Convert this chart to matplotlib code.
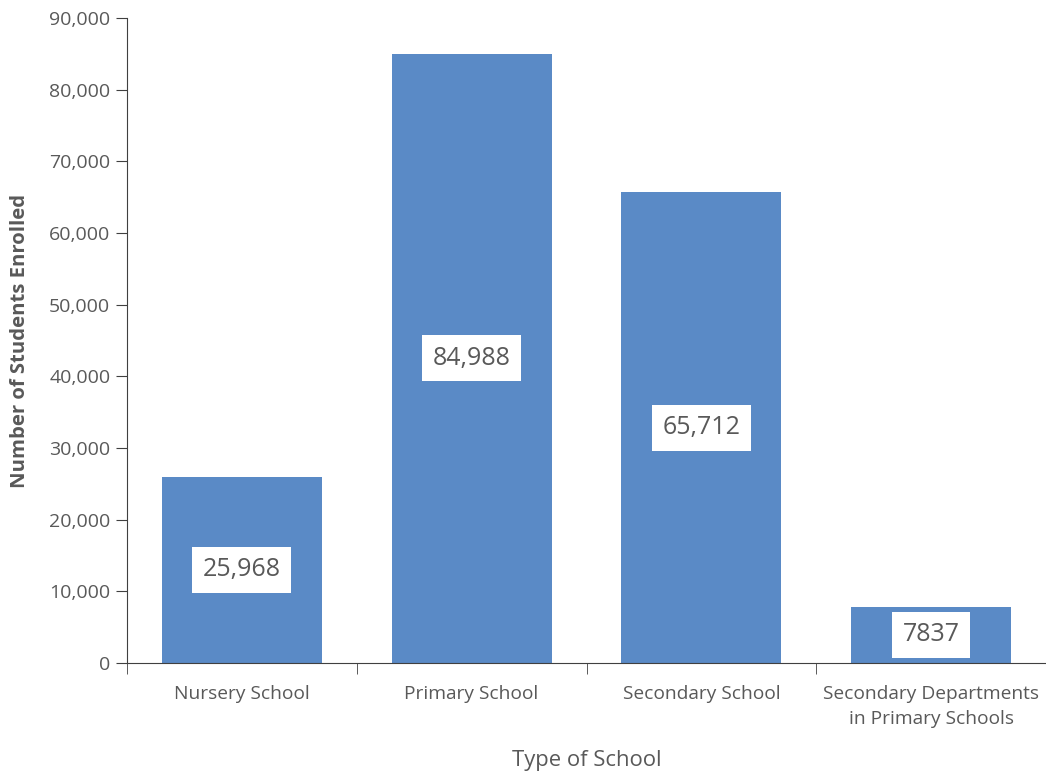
import matplotlib
matplotlib.use("Agg")
import matplotlib.pyplot as plt
from matplotlib.ticker import FuncFormatter

categories = ["Nursery School", "Primary School", "Secondary School",
              "Secondary Departments\nin Primary Schools"]
enrolled = [25968, 84988, 65712, 7837]
value_labels = ["25,968", "84,988", "65,712", "7837"]

plt.rcParams['font.family'] = ['Open Sans', 'DejaVu Sans']
grey = "#595959"

fig = plt.figure(figsize=(10.46, 7.74), dpi=100)
ax = fig.add_axes([127/1046, 1 - 663/774, 1 - 127/1046, (663 - 18)/774])

x = list(range(len(categories)))
bars = ax.bar(x, enrolled, width=0.696, color="#5A8AC6", zorder=2)

for xi, v, lab in zip(x, enrolled, value_labels):
    ax.text(xi, v / 2, lab, ha="center", va="center", fontsize=18, color=grey,
            bbox=dict(boxstyle="square,pad=0.42", fc="white", ec="none"), zorder=3)

ax.set_xlim(-0.5, 3.5)
ax.set_ylim(0, 90000)
ax.set_yticks(range(0, 90001, 10000))
ax.yaxis.set_major_formatter(FuncFormatter(lambda v, p: f"{int(v):,}"))
ax.set_xticks(x)
ax.set_xticklabels(categories, linespacing=1.5, va="top")
ax.set_xticks([-0.5, 0.5, 1.5, 2.5, 3.5], minor=True)
ax.tick_params(axis="x", which="major", length=0, pad=16, labelsize=13.8, labelcolor=grey)
ax.tick_params(axis="x", which="minor", length=8, color="#404040", direction="out")
ax.tick_params(axis="y", length=8, color="#404040", labelsize=14, labelcolor=grey, pad=4)

for s in ["top", "right"]:
    ax.spines[s].set_visible(False)
ax.spines["left"].set_color("#404040")
ax.spines["bottom"].set_color("#404040")

ax.set_xlabel("Type of School", fontsize=15.8, color=grey, labelpad=16)
ax.set_ylabel("Number of Students Enrolled", fontsize=14.6, color=grey,
              fontweight="bold", labelpad=14)

fig.savefig("out.png", dpi=100)
